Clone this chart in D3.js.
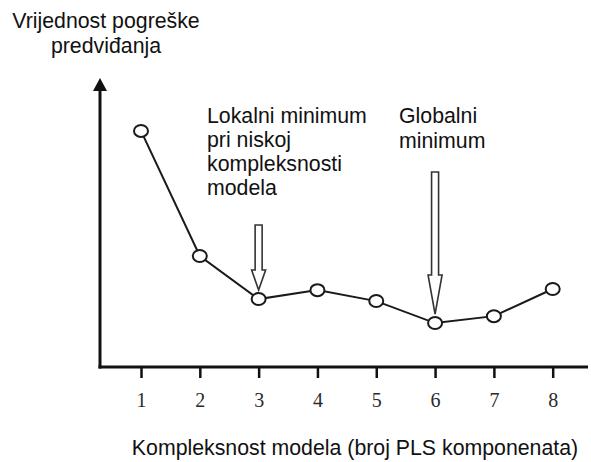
<!DOCTYPE html>
<html>
<head>
<meta charset="utf-8">
<script src="https://cdn.jsdelivr.net/npm/d3@7"></script>
<style>
  body { margin: 0; background: #fff; }
  svg text { font-family: "Liberation Sans", Arial, sans-serif; fill: #111; }
</style>
</head>
<body>
<svg id="chart"></svg>
<script>
// chart data
const components = [1, 2, 3, 4, 5, 6, 7, 8];
const errorValues = [8.17, 3.84, 2.35, 2.66, 2.28, 1.52, 1.76, 2.70];
const tickLabels = ["1", "2", "3", "4", "5", "6", "7", "8"];
const yTitle = ["Vrijednost pogreške", "predviđanja"];
const xTitle = "Kompleksnost modela (broj PLS komponenata)";
const localNote = ["Lokalni minimum", "pri niskoj", "kompleksnosti", "modela"];
const globalNote = ["Globalni", "minimum"];
const localAt = 3, globalAt = 6;

const width = 591, height = 462;
const axisX = 100, axisY = 367, axisTop = 78;

const svg = d3.select("#chart")
  .attr("width", width)
  .attr("height", height);

const xScale = d3.scaleLinear()
  .domain([1, 8])
  .range([141, 552.7]);

const yScale = d3.scaleLinear()
  .domain([0, 10])
  .range([axisY, axisTop]);

// axes: y with arrow head, x plain line with ticks below
svg.append("line")
  .attr("x1", axisX).attr("x2", axisX)
  .attr("y1", axisY + 1.5).attr("y2", axisTop + 10)
  .attr("stroke", "#111").attr("stroke-width", 3);

svg.append("path")
  .attr("d", `M${axisX},${axisTop} L${axisX - 7},${axisTop + 13} L${axisX + 7},${axisTop + 13} Z`)
  .attr("fill", "#111");

svg.append("line")
  .attr("x1", axisX - 1.5).attr("x2", 588)
  .attr("y1", axisY).attr("y2", axisY)
  .attr("stroke", "#111").attr("stroke-width", 3);

const xAxis = d3.axisBottom(xScale)
  .tickValues(components)
  .tickFormat((d, i) => tickLabels[i])
  .tickSize(11)
  .tickPadding(15);

const gx = svg.append("g")
  .attr("transform", `translate(0, ${axisY})`)
  .call(xAxis)
  .attr("font-size", null)
  .attr("font-family", null);
gx.select(".domain").remove();
gx.selectAll(".tick line").attr("stroke", "#111").attr("stroke-width", 2.5);
gx.selectAll(".tick text")
  .style("font-family", '"Liberation Serif", "Times New Roman", serif')
  .style("font-size", "20px")
  .style("fill", "#2a2a2a");

// line + markers
const line = d3.line()
  .x((d, i) => xScale(components[i]))
  .y(d => yScale(d));

svg.append("path")
  .datum(errorValues)
  .attr("d", line)
  .attr("fill", "none")
  .attr("stroke", "#1a1a1a")
  .attr("stroke-width", 2);

svg.selectAll("ellipse.pt")
  .data(errorValues)
  .join("ellipse")
  .attr("class", "pt")
  .attr("cx", (d, i) => xScale(components[i]))
  .attr("cy", d => yScale(d))
  .attr("rx", 7)
  .attr("ry", 6)
  .attr("fill", "#fff")
  .attr("stroke", "#1a1a1a")
  .attr("stroke-width", 2);

// hollow down arrows
function hollowArrow(cx, top, headStart, tip) {
  const s = 3.5, h = 7;
  const d = `M${cx - s},${top} L${cx + s},${top} L${cx + s},${headStart} L${cx + h},${headStart}
    L${cx},${tip} L${cx - h},${headStart} L${cx - s},${headStart} Z`;
  svg.append("path")
    .attr("d", d)
    .attr("fill", "#fff")
    .attr("stroke", "#333")
    .attr("stroke-width", 1.6);
}
const localY = yScale(errorValues[components.indexOf(localAt)]);
const globalY = yScale(errorValues[components.indexOf(globalAt)]);
hollowArrow(xScale(localAt), 225, 270, localY - 9);
hollowArrow(xScale(globalAt), 172, 275, globalY - 9);

// annotations
const fs = 21.3, lh = 24;
svg.append("text")
  .attr("x", 207).attr("y", 123)
  .style("font-size", fs + "px")
  .selectAll("tspan").data(localNote).join("tspan")
  .attr("x", 207).attr("dy", (d, i) => i ? lh : 0)
  .text(d => d);

svg.append("text")
  .attr("x", 399).attr("y", 123)
  .style("font-size", fs + "px")
  .selectAll("tspan").data(globalNote).join("tspan")
  .attr("x", 399).attr("dy", (d, i) => i ? lh + 1 : 0)
  .text(d => d);

svg.append("text")
  .attr("x", 106).attr("y", 28)
  .attr("text-anchor", "middle")
  .style("font-size", fs + "px")
  .selectAll("tspan").data(yTitle).join("tspan")
  .attr("x", 106).attr("dy", (d, i) => i ? 25 : 0)
  .text(d => d);

svg.append("text")
  .attr("x", 355).attr("y", 455)
  .attr("text-anchor", "middle")
  .style("font-size", fs + "px")
  .text(xTitle);
</script>
</body>
</html>
